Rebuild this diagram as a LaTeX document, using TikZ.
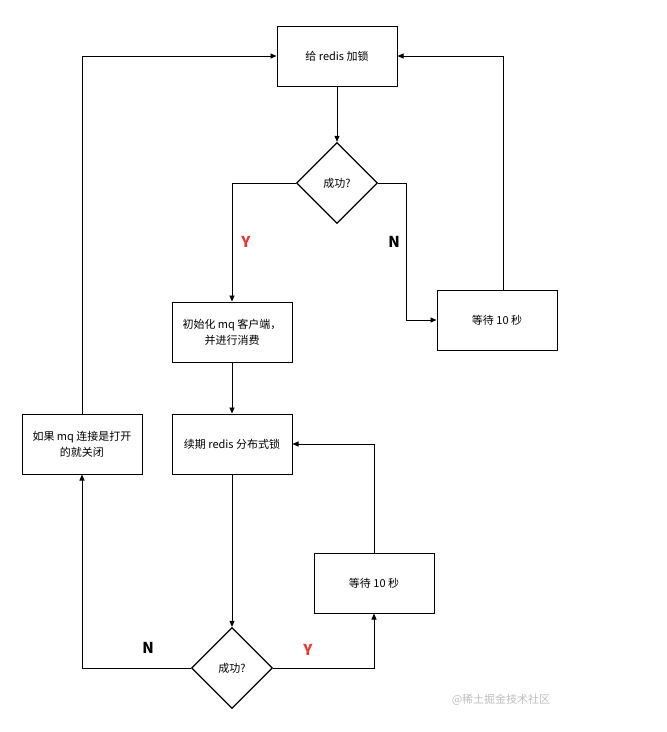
\documentclass[tikz,border=0pt]{standalone}
\usepackage{fontspec}
\setmainfont{Noto Sans CJK SC}
\usetikzlibrary{shapes.geometric,arrows.meta}
\begin{document}
\begin{tikzpicture}[x=1pt,y=-1pt,
  box/.style={draw,line width=1pt,minimum width=120pt,minimum height=60pt,align=center,font=\fontsize{11}{16}\selectfont,inner sep=0pt},
  dia/.style={draw,line width=1.3pt,diamond,minimum width=81pt,minimum height=81pt,inner sep=0pt,aspect=1,font=\fontsize{11}{14}\selectfont},
  conn/.style={line width=0.9pt,-{Triangle[length=6pt,width=5pt]}},
  lab/.style={font=\fontsize{15}{17}\selectfont\bfseries}]
\useasboundingbox (0,0) rectangle (667,732);
\fill[white] (0,0) rectangle (667,732);
\node[box] (lock) at (337,56) {给 redis 加锁};
\node[dia] (d1) at (337,183) {成功?};
\node[box] (init) at (232,332) {初始化 mq 客户端，\\并进行消费};
\node[box] (wait1) at (497,320) {等待 10 秒};
\coordinate (w1top) at (503,290);
\node[box] (renew) at (232,444) {续期 redis 分布式锁};
\node[box] (close) at (82,444) {如果 mq 连接是打开\\的就关闭};
\node[dia] (d2) at (232,668) {成功?};
\node[box] (wait2) at (374,583) {等待 10 秒};
\draw[conn] (lock) -- (d1);
\draw[conn] (d1.west) -| (init.north);
\draw[conn] (d1.east) -- (406,183) |- (wait1.west);
\draw[conn] (w1top) |- (lock.east);
\draw[conn] (init) -- (renew);
\draw[conn] (renew) -- (d2);
\draw[conn] (d2.east) -| (wait2.south);
\draw[conn] (wait2.north) |- (renew.east);
\draw[conn] (d2.west) -| (close.south);
\draw[conn] (close.north) |- (lock.west);
\node[lab,text={rgb,255:red,229;green,57;blue,53}] (y1) at (246,242) {Y};
\node[lab] (n1) at (394,242) {N};
\node[lab,text={rgb,255:red,229;green,57;blue,53}] (y2) at (308,650) {Y};
\node[lab] (n2) at (148,648) {N};
\node[text={rgb,255:red,190;green,190;blue,190},font=\fontsize{11}{12}\selectfont] (wm) at (501,700) {@稀土掘金技术社区};
\end{tikzpicture}
\end{document}
